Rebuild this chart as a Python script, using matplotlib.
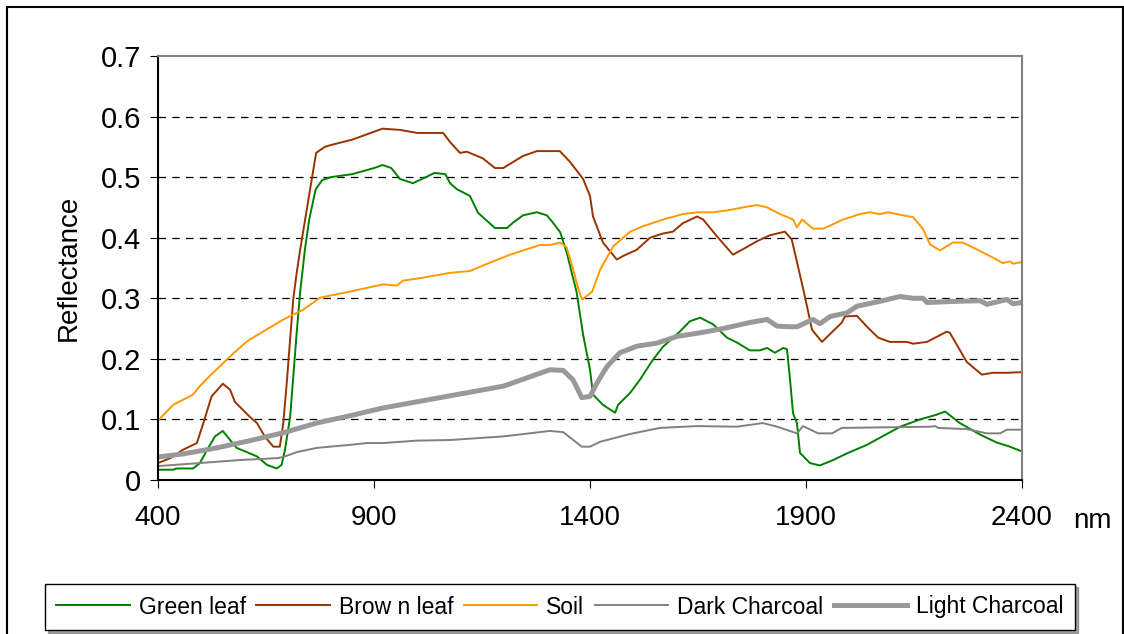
import matplotlib
matplotlib.use("Agg")
import matplotlib.pyplot as plt
from matplotlib.patches import Rectangle

plt.rcParams['font.family'] = ['Liberation Sans', 'DejaVu Sans']

# Данные (длина волны, нм -> коэффициент отражения)

green_wl = [400, 435, 443, 481, 497, 513, 532, 550, 567, 582, 629, 652, 675, 686, 694, 706, 721,
            729, 740, 750, 765, 780, 800, 850, 900, 920, 940, 960, 990, 1020, 1040, 1065, 1076,
            1092, 1122, 1141, 1180, 1208, 1222, 1245, 1277, 1300, 1314, 1331, 1346, 1369, 1384,
            1400, 1407, 1430, 1458, 1465, 1493, 1516, 1546, 1569, 1608, 1631, 1655, 1685, 1717,
            1740, 1770, 1793, 1810, 1828, 1847, 1856, 1863, 1870, 1879, 1886, 1909, 1932, 1963,
            1995, 2041, 2118, 2164, 2203, 2222, 2256, 2303, 2341, 2372, 2400]
green_leaf = [0.017, 0.017, 0.019, 0.019, 0.028, 0.049, 0.072, 0.081, 0.066, 0.053, 0.039, 0.025,
              0.019, 0.025, 0.050, 0.105, 0.243, 0.310, 0.380, 0.430, 0.480, 0.495, 0.500, 0.505,
              0.515, 0.520, 0.515, 0.497, 0.490, 0.500, 0.507, 0.505, 0.490, 0.480, 0.469, 0.441,
              0.416, 0.416, 0.425, 0.437, 0.442, 0.437, 0.425, 0.409, 0.376, 0.310, 0.240, 0.182,
              0.141, 0.124, 0.111, 0.124, 0.144, 0.166, 0.199, 0.220, 0.245, 0.262, 0.268, 0.257,
              0.235, 0.227, 0.214, 0.214, 0.218, 0.210, 0.218, 0.216, 0.166, 0.110, 0.094, 0.045,
              0.028, 0.024, 0.033, 0.044, 0.058, 0.088, 0.100, 0.108, 0.113, 0.094, 0.075, 0.062,
              0.055, 0.047]

brown_wl = [400, 428, 458, 490, 505, 524, 550, 567, 578, 613, 629, 648, 667, 682, 690, 698, 713,
            721, 729, 766, 786, 800, 850, 900, 920, 960, 1000, 1060, 1076, 1099, 1115, 1152, 1180,
            1199, 1245, 1277, 1330, 1354, 1384, 1400, 1407, 1430, 1462, 1477, 1508, 1539, 1569,
            1592, 1615, 1648, 1662, 1693, 1731, 1754, 1786, 1816, 1851, 1867, 1894, 1914, 1937,
            1983, 1990, 2018, 2044, 2067, 2094, 2134, 2148, 2180, 2226, 2233, 2272, 2307, 2333,
            2365, 2400]
brown_leaf = [0.028, 0.036, 0.050, 0.061, 0.094, 0.138, 0.159, 0.149, 0.129, 0.104, 0.094, 0.071,
              0.055, 0.055, 0.094, 0.160, 0.298, 0.342, 0.380, 0.540, 0.550, 0.553, 0.562, 0.575,
              0.580, 0.578, 0.573, 0.573, 0.558, 0.540, 0.542, 0.531, 0.515, 0.515, 0.535, 0.543,
              0.543, 0.525, 0.497, 0.469, 0.435, 0.392, 0.364, 0.370, 0.380, 0.400, 0.407, 0.410,
              0.424, 0.435, 0.430, 0.403, 0.372, 0.381, 0.394, 0.404, 0.410, 0.397, 0.314, 0.248,
              0.228, 0.260, 0.270, 0.271, 0.251, 0.235, 0.228, 0.228, 0.225, 0.228, 0.245, 0.243,
              0.195, 0.174, 0.177, 0.177, 0.178]

soil_wl = [400, 435, 481, 497, 520, 567, 606, 690, 736, 775, 844, 921, 953, 967, 1013, 1076, 1122,
           1169, 1215, 1254, 1284, 1307, 1331, 1346, 1361, 1373, 1382, 1405, 1424, 1454, 1493,
           1523, 1569, 1615, 1648, 1685, 1717, 1754, 1786, 1810, 1840, 1870, 1879, 1891, 1916,
           1940, 1986, 2025, 2048, 2071, 2090, 2124, 2148, 2171, 2187, 2210, 2240, 2263, 2303,
           2333, 2356, 2372, 2380, 2400]
soil = [0.098, 0.124, 0.141, 0.155, 0.172, 0.204, 0.229, 0.265, 0.281, 0.301, 0.311, 0.323, 0.321,
        0.329, 0.334, 0.342, 0.345, 0.359, 0.372, 0.381, 0.388, 0.388, 0.392, 0.384, 0.348, 0.315,
        0.298, 0.311, 0.348, 0.386, 0.410, 0.419, 0.430, 0.439, 0.442, 0.442, 0.445, 0.450, 0.454,
        0.450, 0.439, 0.430, 0.417, 0.430, 0.415, 0.415, 0.430, 0.439, 0.442, 0.439, 0.442, 0.437,
        0.434, 0.414, 0.389, 0.379, 0.392, 0.392, 0.378, 0.367, 0.358, 0.361, 0.357, 0.360]

dark_wl = [400, 497, 590, 675, 690, 721, 767, 844, 883, 921, 999, 1076, 1200, 1307, 1338, 1381,
           1400, 1423, 1493, 1562, 1648, 1740, 1800, 1833, 1879, 1893, 1928, 1960, 1983, 2187,
           2199, 2206, 2272, 2319, 2349, 2365, 2400]
dark_charcoal = [0.023, 0.028, 0.033, 0.036, 0.038, 0.046, 0.053, 0.058, 0.061, 0.061, 0.065,
                 0.066, 0.072, 0.081, 0.079, 0.055, 0.055, 0.063, 0.076, 0.086, 0.089, 0.088,
                 0.094, 0.088, 0.077, 0.089, 0.077, 0.077, 0.086, 0.088, 0.089, 0.086, 0.084,
                 0.077, 0.077, 0.083, 0.083]

light_wl = [400, 458, 536, 613, 690, 767, 844, 921, 999, 1076, 1200, 1307, 1338, 1361, 1381, 1400,
            1416, 1439, 1469, 1509, 1555, 1601, 1655, 1708, 1770, 1810, 1833, 1863, 1879, 1916,
            1932, 1956, 1995, 2018, 2071, 2118, 2148, 2171, 2180, 2249, 2303, 2319, 2365, 2379,
            2400]
light_charcoal = [0.038, 0.043, 0.053, 0.065, 0.078, 0.094, 0.106, 0.119, 0.129, 0.139, 0.155,
                  0.182, 0.181, 0.165, 0.136, 0.138, 0.160, 0.187, 0.210, 0.221, 0.226, 0.237,
                  0.243, 0.250, 0.260, 0.265, 0.254, 0.253, 0.253, 0.265, 0.258, 0.270, 0.276,
                  0.287, 0.295, 0.303, 0.300, 0.300, 0.293, 0.295, 0.296, 0.290, 0.298, 0.291,
                  0.293]

x_ticks = [400, 900, 1400, 1900, 2400]
y_ticks = [0, 0.1, 0.2, 0.3, 0.4, 0.5, 0.6, 0.7]
y_labels = ['0', '0.1', '0.2', '0.3', '0.4', '0.5', '0.6', '0.7']

# Рисование

fig = plt.figure(figsize=(11.24, 6.34), dpi=100)
ax = fig.add_axes([158 / 1124, 1 - 480 / 634, 864 / 1124, 424 / 634])

ax.plot(green_wl, green_leaf, color='#008000', lw=1.4, label='Green leaf')
ax.plot(brown_wl, brown_leaf, color='#993300', lw=1.4, label='Brow n leaf')
ax.plot(soil_wl, soil, color='#FF9900', lw=1.4, label='Soil')
ax.plot(dark_wl, dark_charcoal, color='#808080', lw=1.4, label='Dark Charcoal')
ax.plot(light_wl, light_charcoal, color='#999999', lw=3.6, label='Light Charcoal')

ax.set_xlim(400, 2400)
ax.set_ylim(0, 0.7)
ax.set_xticks(x_ticks)
ax.set_yticks(y_ticks)
ax.set_yticklabels(y_labels, fontsize=21)
ax.tick_params(axis='x', labelsize=20, direction='out', length=6, pad=12)
ax.tick_params(axis='y', direction='out', length=6, pad=6)

for y in y_ticks[1:-1]:
    ax.axhline(y, color='black', lw=0.9, ls=(0, (6, 5)), zorder=0)

ax.spines['top'].set_color('#808080')
ax.spines['right'].set_color('#808080')
for s in ax.spines.values():
    s.set_linewidth(1.5)

ax.set_ylabel('Reflectance', fontsize=20, labelpad=14)
fig.text(1092 / 1124, 1 - 521 / 634, 'nm', fontsize=20, ha='center', va='center')

leg = fig.legend(loc='center', bbox_to_anchor=(560 / 1124, 1 - 607 / 634), ncol=5,
                 fontsize=16.5, frameon=True, fancybox=False, shadow=True,
                 handlelength=3.2, handletextpad=0.4, columnspacing=0.45,
                 borderpad=0.5, edgecolor='black')
leg.get_frame().set_linewidth(1.0)

# Рамка вокруг рисунка
fig.patches.append(Rectangle((7 / 1124, -0.05), 1115.5 / 1124, 1.05 - 7 / 634,
                             transform=fig.transFigure, fill=False, edgecolor='black',
                             lw=1.5))

fig.savefig('out.png', dpi=100)
